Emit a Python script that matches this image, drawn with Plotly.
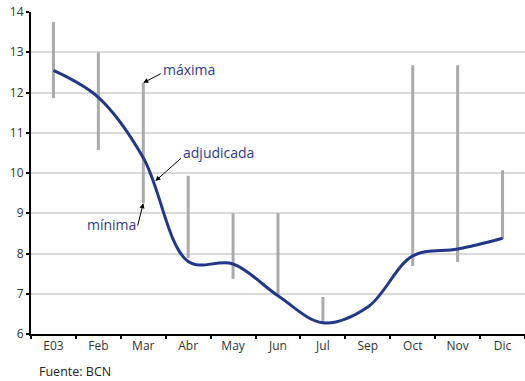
# Tasas de adjudicación: rango mínimo-máximo y tasa adjudicada por mes

import plotly.graph_objects as go

months = ['E03', 'Feb', 'Mar', 'Abr', 'May', 'Jun', 'Jul', 'Sep', 'Oct', 'Nov', 'Dic']
maxima = [13.75, 13.0, 12.24, 9.93, 9.0, 9.0, 6.92, None, 12.68, 12.68, 10.07]
minima = [11.86, 10.57, 9.25, 7.89, 7.37, 6.97, 6.3, None, 7.69, 7.79, 8.36]
adjudicada = [12.55, 11.88, 10.38, 7.8, 7.74, 6.95, 6.28, 6.67, 7.94, 8.11, 8.38]
y_ticks = [6, 7, 8, 9, 10, 11, 12, 13, 14]

blue = 'rgb(33, 56, 138)'
text_blue = 'rgb(46, 58, 140)'
grey = 'rgb(170, 170, 170)'
font = 'Open Sans, sans-serif'

# vertical min-max segments
bx, by = [], []
for m, hi, lo in zip(months, maxima, minima):
    if hi is None:
        continue
    bx += [m, m, None]
    by += [lo, hi, None]

fig = go.Figure()
fig.add_trace(go.Scatter(
    x=bx, y=by, mode='lines',
    line=dict(color=grey, width=3),
    hoverinfo='skip', showlegend=False))
fig.add_trace(go.Scatter(
    x=months, y=adjudicada, mode='lines',
    line=dict(color=blue, width=3, shape='spline', smoothing=1.0),
    showlegend=False))

i_mar = months.index('Mar')
arrow = dict(showarrow=True, arrowhead=2, arrowsize=1, arrowwidth=1,
             arrowcolor='black', text='', axref='pixel', ayref='pixel')
fig.add_annotation(x=i_mar, y=maxima[i_mar], ax=19, ay=-10, **arrow)
fig.add_annotation(x=i_mar + 0.27, y=9.8, ax=27, ay=-24, **arrow)
fig.add_annotation(x=i_mar, y=minima[i_mar], ax=-6, ay=24, **arrow)

lab = dict(showarrow=False, font=dict(family=font, size=14, color=text_blue))
fig.add_annotation(x=i_mar, y=maxima[i_mar], text='máxima',
                   xanchor='left', yanchor='middle', xshift=18, yshift=13, **lab)
fig.add_annotation(x=i_mar + 0.27, y=9.8, text='adjudicada',
                   xanchor='left', yanchor='middle', xshift=26, yshift=29, **lab)
fig.add_annotation(x=i_mar, y=minima[i_mar], text='mínima',
                   xanchor='right', yanchor='middle', xshift=-5, yshift=-21, **lab)

fig.add_annotation(xref='paper', yref='paper', x=0.012, y=-0.115,
                   text='Fuente: BCN', showarrow=False, xanchor='left', yanchor='middle',
                   font=dict(family=font, size=12.5, color='#222'))

fig.update_xaxes(
    type='category', categoryorder='array', categoryarray=months,
    range=[-0.5, len(months) - 0.5],
    tickson='boundaries', ticks='outside', ticklen=3, tickwidth=2, tickcolor='black',
    showline=True, linecolor='black', linewidth=2, showgrid=False,
    tickfont=dict(family=font, size=12, color='#333'), fixedrange=True)
fig.update_yaxes(
    range=[6, 14], tickvals=y_ticks,
    ticks='outside', ticklen=3, tickwidth=2, tickcolor='black',
    showline=True, linecolor='black', linewidth=2,
    showgrid=True, gridcolor='rgb(217, 217, 217)', gridwidth=2,
    zeroline=False,
    tickfont=dict(family=font, size=12, color='#333'), fixedrange=True)
fig.update_layout(
    width=525, height=381,
    margin=dict(l=31, r=0, t=12, b=47),
    plot_bgcolor='white', paper_bgcolor='white',
    showlegend=False)

# drop the default page margin so the figure fills the window
fig.write_html("out.html", config={'displayModeBar': False},
               post_script="document.body.style.margin='0';")
